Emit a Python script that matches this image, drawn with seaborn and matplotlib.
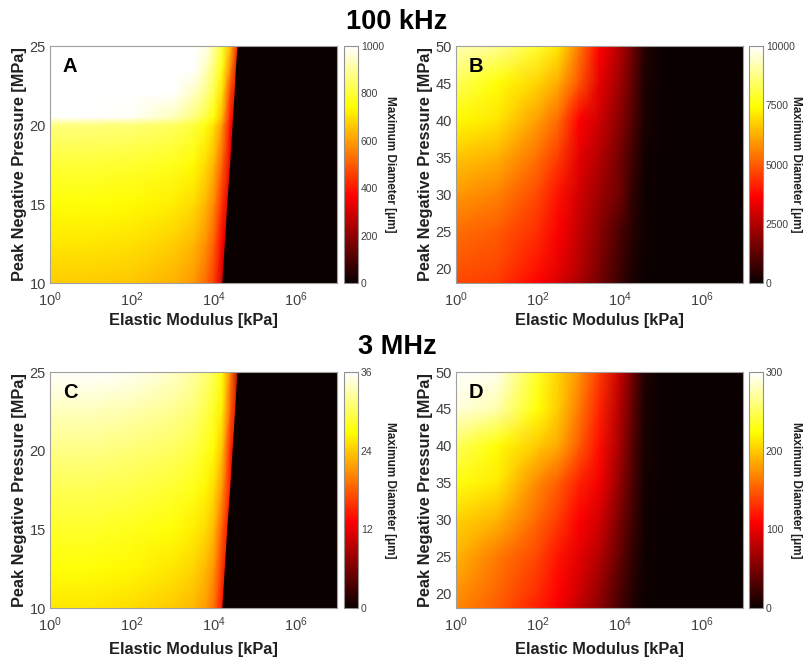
import numpy as np
import matplotlib
matplotlib.use("Agg")
import matplotlib.pyplot as plt
import seaborn as sns

# ---------------- data ----------------
# x grid: log10 of elastic modulus [kPa]
logE_AC = [0, 1, 2, 3, 3.5, 3.8, 4.0, 4.2, 4.4, 4.6]
logE_BD = [0, 1, 2, 2.5, 3, 3.5, 4.0, 4.3, 4.6, 5, 7]

# Panel A (100 kHz), max diameter [um]
P_A = [10, 12.5, 15, 17.5, 20, 20.5, 22, 23.5, 25]
D_A = [
    [670, 670, 662, 630, 590, 525, 450, 300, 250, 200],
    [710, 710, 702, 675, 640, 580, 505, 360, 250, 200],
    [750, 750, 742, 720, 690, 635, 570, 430, 300, 200],
    [800, 800, 792, 770, 740, 690, 630, 510, 330, 200],
    [870, 870, 862, 840, 805, 760, 700, 590, 380, 250],
    [1010, 1005, 990, 930, 870, 810, 750, 640, 400, 250],
    [1050, 1050, 1040, 1010, 940, 880, 810, 700, 460, 300],
    [1080, 1080, 1070, 1040, 1000, 930, 860, 760, 560, 300],
    [1100, 1100, 1100, 1070, 1030, 980, 900, 800, 650, 350],
]
edge_A = [4.19, 4.25, 4.31, 4.38, 4.44, 4.45, 4.49, 4.52, 4.56]

# Panel B (100 kHz)
P_B = [18, 20, 25, 30, 35, 40, 45, 50]
D_B = [
    [4700, 4500, 3650, 3100, 2400, 1600, 700, 250, 30, 0, 0],
    [4900, 4700, 3900, 3300, 2600, 1700, 800, 300, 50, 0, 0],
    [5300, 5000, 4300, 3600, 2800, 1900, 1000, 450, 80, 0, 0],
    [5900, 5600, 4700, 3900, 3000, 2200, 1500, 600, 100, 0, 0],
    [6600, 6300, 5300, 4500, 3300, 2500, 1600, 800, 150, 0, 0],
    [7400, 7100, 6000, 5200, 3650, 2900, 1900, 1100, 250, 0, 0],
    [8300, 7500, 6800, 6200, 4900, 3300, 2200, 1300, 300, 0, 0],
    [9300, 8900, 7900, 7100, 5500, 3650, 2500, 1500, 400, 0, 0],
]

# Panel C (3 MHz)
P_C = [10, 12.5, 15, 17.5, 20, 22.5, 25]
D_C = [
    [25.5, 25.5, 25, 24, 23, 21.5, 19, 14, 10, 8],
    [27, 27, 26.5, 25.5, 24.5, 23, 21, 16, 11, 8],
    [28.3, 28.3, 27.8, 27, 26, 24.8, 23, 18, 12, 9],
    [29.8, 29.8, 29.3, 28.5, 27.6, 26.3, 24.8, 21, 14, 10],
    [31.5, 31.5, 31, 30.2, 29.2, 27.9, 26.6, 23.5, 15, 10],
    [33.5, 33.5, 33, 32, 31, 29.5, 28.2, 26, 18, 11],
    [36.5, 36.2, 35.5, 34, 32.5, 31, 29.8, 27, 20, 8],
]
edge_C = [4.19, 4.25, 4.31, 4.38, 4.44, 4.50, 4.56]

# Panel D (3 MHz)
P_D = [18, 20, 25, 30, 35, 40, 45, 50]
D_D = [
    [170, 150, 122, 105, 82, 58, 25, 10, 2, 0, 0],
    [175, 155, 128, 110, 88, 62, 30, 12, 2, 0, 0],
    [190, 165, 140, 118, 98, 75, 40, 18, 3, 0, 0],
    [205, 190, 155, 135, 110, 90, 50, 25, 4, 0, 0],
    [228, 215, 170, 150, 125, 105, 60, 30, 5, 0, 0],
    [250, 226, 200, 185, 150, 115, 70, 35, 7, 0, 0],
    [290, 275, 225, 200, 165, 125, 75, 40, 8, 0, 0],
    [305, 295, 235, 205, 175, 135, 85, 45, 10, 0, 0],
]

xticks = [1e0, 1e2, 1e4, 1e6]
yticks_AC = [10, 15, 20, 25]
yticks_BD = [20, 25, 30, 35, 40, 45, 50]
cticks_A = [0, 200, 400, 600, 800, 1000]
cticks_B = [0, 2500, 5000, 7500, 10000]
cticks_C = [0, 12, 24, 36]
cticks_D = [0, 100, 200, 300]

# ---------------- style ----------------
sns.set_theme(style="white")
plt.rcParams["font.family"] = ["Liberation Sans", "DejaVu Sans"]
plt.rcParams["mathtext.fontset"] = "custom"
plt.rcParams["mathtext.rm"] = "Liberation Sans"
plt.rcParams["mathtext.it"] = "Liberation Sans:italic"
plt.rcParams["mathtext.bf"] = "Liberation Sans:bold"
cmap = sns.color_palette("hot", as_cmap=True)

W, H = 809, 658
fig = plt.figure(figsize=(W / 100, H / 100), dpi=100)


def box(x0, y0, x1, y1):
    return [x0 / W, 1 - y1 / H, (x1 - x0) / W, (y1 - y0) / H]


def panel(ax_box, cax_box, logE, P, D, vmax, yticks, ylim, cticks, letter,
          edge=None, xlab_off=-0.127):
    ax = fig.add_axes(ax_box)
    cax = fig.add_axes(cax_box)
    E = 10.0 ** np.asarray(logE, dtype=float)
    mesh = ax.pcolormesh(E, np.asarray(P, float), np.asarray(D, float),
                         shading="gouraud", cmap=cmap, vmin=0, vmax=vmax,
                         antialiased=False, rasterized=True)
    if edge is not None:
        ax.fill_betweenx(P, 10.0 ** np.asarray(edge), 1e7,
                         color=cmap(0.0), lw=0)
    ax.set_xscale("log")
    ax.set_xlim(1, 1e7)
    ax.set_ylim(*ylim)
    ax.set_xticks(xticks)
    ax.set_xticks([], minor=True)
    ax.set_yticks(yticks)
    ax.tick_params(length=0, labelsize=10.5, colors="#404040")
    ax.tick_params(axis="x", pad=5)
    ax.tick_params(axis="y", pad=3)
    for s in ax.spines.values():
        s.set_color("#a0a0a0")
        s.set_linewidth(0.8)
    ax.set_xlabel("Elastic Modulus [kPa]", fontsize=11.8, fontweight="bold",
                  color="#202020")
    ax.set_ylabel("Peak Negative Pressure [MPa]", fontsize=11.8,
                  fontweight="bold", color="#202020")
    ax.xaxis.set_label_coords(0.5, xlab_off)
    ax.yaxis.set_label_coords(-0.08, 0.5)
    ax.text(0.045, 0.955, letter, transform=ax.transAxes, ha="left",
            va="top", fontsize=14.5, fontweight="bold", color="black")

    cb = fig.colorbar(mesh, cax=cax, ticks=cticks)
    cb.outline.set_edgecolor("#909090")
    cb.outline.set_linewidth(0.8)
    cax.tick_params(direction="in", length=2, width=0.6, labelsize=7.5,
                    colors="#404040", pad=2)
    cax.set_ylabel("Maximum Diameter [μm]", rotation=270, fontsize=8.5,
                   fontweight="bold", color="#202020")
    cax.yaxis.set_label_coords(3.75, 0.5)
    return ax


panel(box(50, 46, 337, 283), box(344, 46, 358, 283), logE_AC, P_A, D_A,
      1000, yticks_AC, (10, 25), cticks_A, "A", edge=edge_A, xlab_off=-0.125)
panel(box(456, 46, 743, 283), box(749, 46, 763, 283), logE_BD, P_B, D_B,
      10000, yticks_BD, (18, 50), cticks_B, "B", xlab_off=-0.125)
panel(box(50, 372, 337, 608), box(344, 372, 358, 608), logE_AC, P_C, D_C,
      36, yticks_AC, (10, 25), cticks_C, "C", edge=edge_C, xlab_off=-0.143)
panel(box(456, 372, 743, 608), box(749, 372, 763, 608), logE_BD, P_D, D_D,
      300, yticks_BD, (18, 50), cticks_D, "D", xlab_off=-0.143)

fig.text(397 / W, 1 - 22 / H, "100 kHz", ha="center", va="center",
         fontsize=19.5, fontweight="bold", color="black")
fig.text(397 / W, 1 - 347 / H, "3 MHz", ha="center", va="center",
         fontsize=19.5, fontweight="bold", color="black")

fig.savefig("out.png", dpi=100)
